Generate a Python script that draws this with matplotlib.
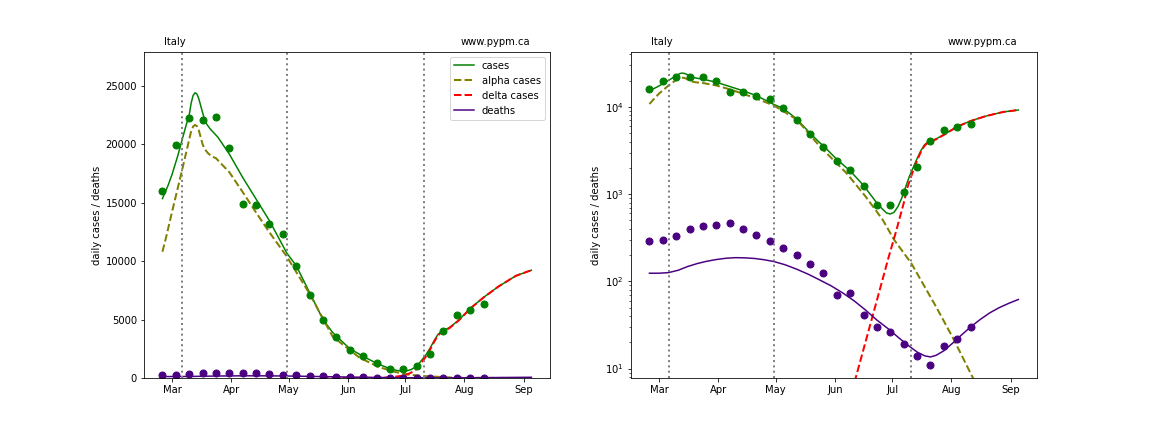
import numpy as np
import pandas as pd
import matplotlib
matplotlib.use("Agg")
import matplotlib.pyplot as plt
import matplotlib.dates as mdates

# ---------------- data ----------------
ref_date = "2021-03-01"
obs_start = "2021-02-24"

cases_obs = [16000, 19900, 22200, 22100, 22300, 19700, 14900, 14800, 13200, 12300,
             9600, 7100, 4950, 3500, 2420, 1900, 1250, 760, 760, 1060,
             2070, 4050, 5400, 5850, 6350]
deaths_obs = [289, 297, 330, 398, 431, 442, 467, 398, 339, 289,
              240, 201, 157, 124, 69, 74, 41, 30, 26, 19,
              14, 11, 18, 22, 30]

# model curves: day offsets from ref_date and values
cases_days = [-5, -2, 0, 3, 5, 7, 9, 10, 11, 12, 13, 14, 15, 16, 17, 18, 20, 22, 24,
              30, 37, 44, 51, 60, 65, 72, 79, 84, 86, 93, 100, 107, 114, 117, 119, 121,
              123, 125, 127, 129, 131, 133, 135, 137, 139, 141, 143, 145, 150, 156, 163,
              171, 180, 188]
cases_model = [15350, 16500, 17400, 19000, 20200, 21400, 22500, 23500, 24150, 24400,
               24300, 23900, 23300, 22700, 22150, 21750, 21300, 20950, 20600,
               19150, 17150, 15300, 13450, 10700, 9600, 7300, 5000, 3900, 3580, 2510,
               1850, 1260, 790, 670, 610, 592, 620, 720, 900, 1200, 1600, 2020, 2550,
               3150, 3700, 4000, 4150, 4300, 4950, 5950, 6900, 7850, 8750, 9220]

alpha_days = [-5, -3, 0, 5, 9, 10, 11, 12, 13, 14, 15, 16, 17, 19, 21, 23, 30, 37, 44,
              51, 60, 72, 84, 98, 108, 117, 123, 132, 145, 154, 164, 175]
alpha_model = [10800, 12100, 14200, 17600, 20400, 21100, 21500, 21650, 21550, 21200,
               20600, 20000, 19600, 19200, 18950, 18800, 17600, 15900, 14150,
               12450, 10400, 7200, 3550, 1750, 944, 510, 300, 161, 51, 22, 8, 2.9]

delta_days = [78, 90, 100, 105, 110, 115, 120, 124, 126, 128, 130, 133, 135, 137, 139,
              141, 143, 145, 150, 156, 163, 171, 180, 188]
delta_model = [0.12, 0.9, 4.6, 11.5, 29, 73, 185, 372, 541, 784, 1200, 1870, 2430, 3050,
               3610, 3930, 4090, 4250, 4920, 5930, 6890, 7850, 8750, 9220]

deaths_days = [-5, 0, 5, 10, 15, 20, 25, 30, 35, 40, 45, 50, 55, 60, 66, 72, 78, 84,
               90, 96, 102, 108, 114, 120, 126, 131, 135, 139, 142, 145, 149, 154, 158,
               163, 168, 173, 178, 183, 188]
deaths_model = [124, 124, 126, 134, 148, 160, 170, 178, 184, 187, 186, 183, 177, 169,
                155, 138, 121, 104, 89, 74, 60, 47, 36, 28.5, 22, 18, 15.5, 14, 13.6,
                14.2, 16, 19.9, 24, 30, 36.5, 43.5, 50, 56, 62]

event_dates = ["2021-03-06", "2021-04-30", "2021-07-11"]

# ---------------- helpers ----------------
ref = pd.Timestamp(ref_date)
obs_dates = pd.date_range(obs_start, periods=len(cases_obs), freq="7D")


def to_dates(days):
    return [ref + pd.Timedelta(days=d) for d in days]


fig, axes = plt.subplots(1, 2, figsize=(16, 6), dpi=72)
fig.subplots_adjust(left=0.125, right=0.9, top=0.88, bottom=0.125, wspace=0.2)

for i, ax in enumerate(axes):
    ax.plot(to_dates(cases_days), cases_model, color="green", lw=1.5, label="cases")
    ax.plot(to_dates(alpha_days), alpha_model, color="olive", lw=2, ls="--", label="alpha cases")
    ax.plot(to_dates(delta_days), delta_model, color="red", lw=2, ls="--", label="delta cases")
    ax.plot(to_dates(deaths_days), deaths_model, color="indigo", lw=1.5, label="deaths")
    ax.plot(obs_dates, cases_obs, "o", color="green", ms=7)
    ax.plot(obs_dates, deaths_obs, "o", color="indigo", ms=7)
    for d in event_dates:
        ax.axvline(pd.Timestamp(d), color="grey", ls=":", lw=2)
    ax.xaxis.set_major_locator(mdates.MonthLocator())
    ax.xaxis.set_major_formatter(mdates.DateFormatter("%b"))
    ax.set_ylabel("daily cases / deaths")
    ax.text(0.05, 1.02, "Italy", transform=ax.transAxes)
    ax.text(0.78, 1.02, "www.pypm.ca", transform=ax.transAxes)

axes[0].set_ylim(0, 27900)
axes[0].legend(loc="upper right")
axes[1].set_yscale("log")
axes[1].set_ylim(7.8, 42800)

fig.savefig("out.png", dpi=72)
